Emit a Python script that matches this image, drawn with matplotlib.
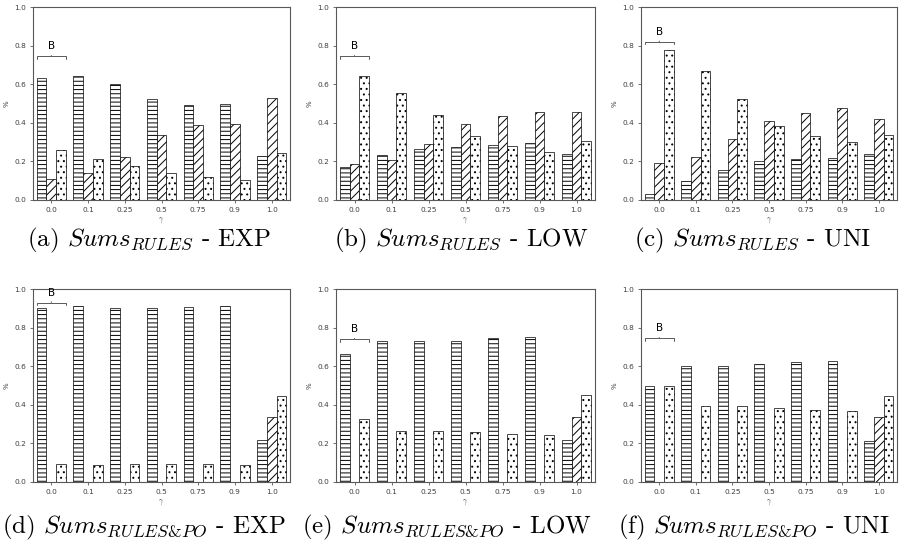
import matplotlib
matplotlib.use("Agg")
import matplotlib.pyplot as plt
import numpy as np

plt.rcParams["mathtext.fontset"] = "cm"
plt.rcParams["hatch.linewidth"] = 0.7

# x categories (gamma)
gammas = ["0.0", "0.1", "0.25", "0.5", "0.75", "0.9", "1.0"]

# (a) Sums_RULES - EXP
rules_exp_h = [0.63, 0.645, 0.60, 0.525, 0.49, 0.50, 0.23]
rules_exp_d = [0.11, 0.14, 0.225, 0.335, 0.39, 0.395, 0.53]
rules_exp_p = [0.26, 0.215, 0.175, 0.14, 0.12, 0.105, 0.245]

# (b) Sums_RULES - LOW
rules_low_h = [0.17, 0.235, 0.265, 0.275, 0.285, 0.295, 0.24]
rules_low_d = [0.185, 0.205, 0.29, 0.395, 0.435, 0.455, 0.455]
rules_low_p = [0.645, 0.555, 0.44, 0.33, 0.28, 0.25, 0.305]

# (c) Sums_RULES - UNI
rules_uni_h = [0.03, 0.10, 0.155, 0.20, 0.215, 0.22, 0.24]
rules_uni_d = [0.19, 0.225, 0.315, 0.41, 0.45, 0.475, 0.42]
rules_uni_p = [0.775, 0.67, 0.525, 0.385, 0.33, 0.30, 0.335]

# (d) Sums_RULES&PO - EXP
po_exp_h = [0.90, 0.91, 0.90, 0.90, 0.905, 0.91, 0.22]
po_exp_d = [0.0, 0.0, 0.0, 0.0, 0.0, 0.0, 0.335]
po_exp_p = [0.095, 0.09, 0.095, 0.095, 0.093, 0.09, 0.445]

# (e) Sums_RULES&PO - LOW
po_low_h = [0.665, 0.728, 0.728, 0.733, 0.745, 0.75, 0.22]
po_low_d = [0.0, 0.0, 0.0, 0.0, 0.0, 0.0, 0.335]
po_low_p = [0.327, 0.265, 0.265, 0.26, 0.25, 0.245, 0.45]

# (f) Sums_RULES&PO - UNI
po_uni_h = [0.495, 0.60, 0.60, 0.61, 0.62, 0.625, 0.215]
po_uni_d = [0.0, 0.0, 0.0, 0.0, 0.0, 0.0, 0.335]
po_uni_p = [0.495, 0.395, 0.395, 0.385, 0.375, 0.37, 0.445]

captions = [
    r"(a) $Sums_{RULES}$ - EXP",
    r"(b) $Sums_{RULES}$ - LOW",
    r"(c) $Sums_{RULES}$ - UNI",
    r"(d) $Sums_{RULES&PO}$ - EXP",
    r"(e) $Sums_{RULES&PO}$ - LOW",
    r"(f) $Sums_{RULES&PO}$ - UNI",
]
panels = [
    (rules_exp_h, rules_exp_d, rules_exp_p),
    (rules_low_h, rules_low_d, rules_low_p),
    (rules_uni_h, rules_uni_d, rules_uni_p),
    (po_exp_h, po_exp_d, po_exp_p),
    (po_low_h, po_low_d, po_low_p),
    (po_uni_h, po_uni_d, po_uni_p),
]
bracket_y = [0.745, 0.745, 0.82, 0.93, 0.74, 0.745]

W, H = 900, 550
fig = plt.figure(figsize=(9, 5.5), dpi=100)

col_lr = [(33, 290), (336, 595), (641, 897)]
row_tb = [(7, 200), (289, 482)]
cap_x = [27, 334, 634, 2, 302, 618]
cap_y = [240, 240, 240, 527, 527, 527]

hatches = ["----", "////", "..."]
bw = 0.8 / 3
spine_c = "0.35"
text_c = "0.25"


def draw_bar(ax, xs, vals, h):
    try:
        ax.bar(xs, vals, bw, facecolor="white", edgecolor="0.6",
               linewidth=0.7, hatch=h, hatchcolor="black")
    except (AttributeError, TypeError):
        ax.bar(xs, vals, bw, facecolor="white", edgecolor="black",
               linewidth=0.5, hatch=h)


for i, (series, cap) in enumerate(zip(panels, captions)):
    r, c = divmod(i, 3)
    l, rr = col_lr[c]
    t, b = row_tb[r]
    ax = fig.add_axes([l / W, 1 - b / H, (rr - l) / W, (b - t) / H])
    x = np.arange(len(gammas))
    for k, (vals, h) in enumerate(zip(series, hatches)):
        draw_bar(ax, x + (k - 1) * bw, vals, h)
    ax.set_xlim(-0.5, 6.5)
    ax.set_ylim(0, 1.0)
    ax.set_xticks(x)
    ax.set_xticklabels(gammas)
    ax.set_yticks([0, 0.2, 0.4, 0.6, 0.8, 1.0])
    ax.tick_params(labelsize=5.3, length=2.5, width=0.6, colors=spine_c,
                   labelcolor=text_c, pad=2.5)
    for s in ax.spines.values():
        s.set_color(spine_c)
        s.set_linewidth(0.8)
    ax.set_ylabel("%", fontsize=5, color=text_c, labelpad=3)
    ax.set_xlabel(r"$\gamma$", fontsize=5.5, color=text_c, labelpad=2)
    ax.annotate("B", xy=(0, bracket_y[i]), xytext=(0, 3.5),
                textcoords="offset points", ha="center", va="bottom",
                fontsize=7.5, color="black", annotation_clip=False,
                arrowprops=dict(arrowstyle="-[, widthB=1.4, lengthB=0.25",
                                lw=0.7, color="0.35", shrinkA=1, shrinkB=0))
    fig.text(cap_x[i] / W, 1 - cap_y[i] / H, cap, fontsize=18,
             fontfamily="cmr10", ha="left", va="center", color="black")

fig.savefig("out.png", dpi=100)
